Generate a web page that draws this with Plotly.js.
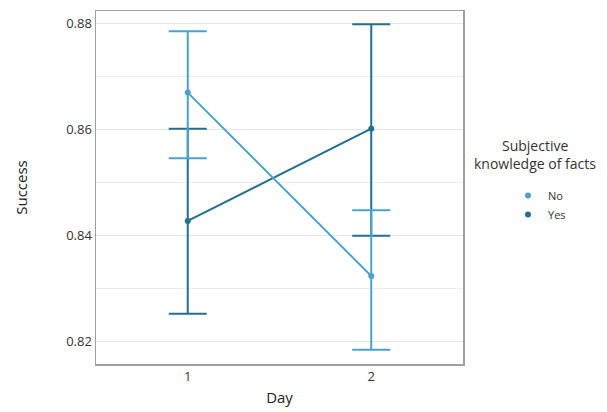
<!DOCTYPE html>
<html>
<head>
<meta charset="utf-8">
<script src="https://cdn.plot.ly/plotly-3.0.1.min.js"></script>
<style>html,body{margin:0;padding:0;background:#fff;}#chart{width:607px;height:412px;}</style>
</head>
<body>
<div id="chart"></div>
<script>
const days = [1, 2];
const dayLabels = ['1', '2'];
const noMean = [0.8669, 0.8323];
const noUpper = [0.8785, 0.8447];
const noLower = [0.8545, 0.8184];
const yesMean = [0.8427, 0.8601];
const yesUpper = [0.8601, 0.8798];
const yesLower = [0.8252, 0.8399];
const groupNames = ['No', 'Yes'];
const legendTitleLines = ['Subjective', 'knowledge of facts'];
const lightColor = '#4ba3c7';
const darkColor = '#236f8f';

function plus(u, m) { return u.map((v, i) => v - m[i]); }
function minus(l, m) { return m.map((v, i) => v - l[i]); }

function seriesTrace(name, mean, upper, lower, color) {
  return {
    x: days, y: mean, type: 'scatter', mode: 'lines+markers', name: name,
    showlegend: false,
    line: {color: color, width: 2},
    marker: {color: color, size: 6},
    error_y: {type: 'data', symmetric: false, array: plus(upper, mean), arrayminus: minus(lower, mean),
      color: color, thickness: 2, width: 19}
  };
}
function legendTrace(name, color) {
  return {x: [null], y: [null], type: 'scatter', mode: 'markers', name: name,
    marker: {color: color, size: 6}, showlegend: true};
}

const data = [
  seriesTrace(groupNames[1], yesMean, yesUpper, yesLower, darkColor),
  seriesTrace(groupNames[0], noMean, noUpper, noLower, lightColor),
  legendTrace(groupNames[0], lightColor),
  legendTrace(groupNames[1], darkColor)
];

const layout = {
  width: 607, height: 412,
  margin: {l: 96, r: 144, t: 11, b: 48},
  paper_bgcolor: '#fff', plot_bgcolor: '#fff',
  font: {family: 'Open Sans, sans-serif', color: '#333', size: 12},
  xaxis: {
    range: [0.5, 2.5], tickvals: days, ticktext: dayLabels,
    showgrid: false, zeroline: false, showline: true, mirror: true,
    linecolor: '#a0a0a0', linewidth: 1.5, ticks: '', ticklen: 0,
    title: {text: 'Day', font: {size: 15, color: '#222'}, standoff: 8},
    tickfont: {size: 13, color: '#333'}
  },
  yaxis: {
    range: [0.8157, 0.8823], tickvals: [0.82, 0.84, 0.86, 0.88],
    ticktext: ['0.82', '0.84', '0.86', '0.88'],
    showgrid: true, gridcolor: '#e6e6e6', gridwidth: 1,
    minor: {tickvals: [0.83, 0.85, 0.87], showgrid: true, gridcolor: '#ededed', gridwidth: 1},
    zeroline: false, showline: true, mirror: true,
    linecolor: '#a0a0a0', linewidth: 1.5, ticks: '',
    title: {text: 'Success', font: {size: 15, color: '#222'}, standoff: 35},
    tickfont: {size: 13, color: '#333'}
  },
  annotations: [
    {text: legendTitleLines[0], xref: 'paper', yref: 'paper', x: 1.196, y: (364 - 145) / 353,
     xanchor: 'center', yanchor: 'middle', showarrow: false, font: {size: 14, color: '#333'}},
    {text: legendTitleLines[1], xref: 'paper', yref: 'paper', x: 1.196, y: (364 - 163) / 353,
     xanchor: 'center', yanchor: 'middle', showarrow: false, font: {size: 14, color: '#333'}}
  ],
  legend: {
    x: (508 - 96) / 367, xanchor: 'left', y: (364 - 181) / 353, yanchor: 'top',
    font: {size: 11, color: '#333'},
    itemwidth: 30, tracegroupgap: 0
  },
  showlegend: true
};

Plotly.newPlot('chart', data, layout, {displayModeBar: false, staticPlot: true});
</script>
</body>
</html>
